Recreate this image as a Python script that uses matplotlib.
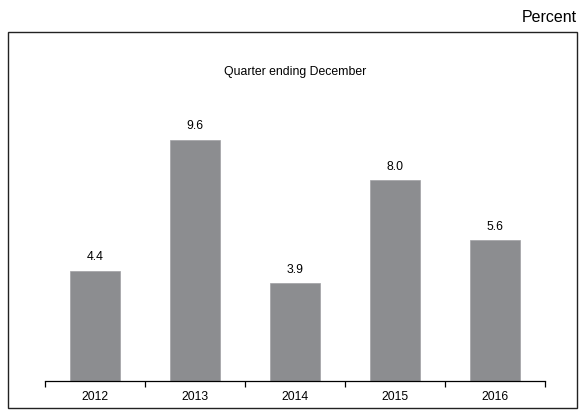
import matplotlib
matplotlib.use("Agg")
import matplotlib.pyplot as plt
from matplotlib.patches import Rectangle

plt.rcParams['font.family'] = ['Liberation Sans', 'DejaVu Sans']

years = ['2012', '2013', '2014', '2015', '2016']
growth = [4.4, 9.6, 3.9, 8.0, 5.6]

W, H = 583, 416
fig = plt.figure(figsize=(W / 100, H / 100), dpi=100)

# outer frame around the chart
fig.patches.append(Rectangle((8 / W, (H - 408) / H), 569 / W, 376 / H,
                             transform=fig.transFigure, fill=False,
                             edgecolor='#222222', linewidth=1.0))
fig.text(577 / W, (H - 18) / H, 'Percent', ha='right', va='center', fontsize=11.5)

ax = fig.add_axes([45 / W, (H - 381) / H, 500 / W, 349 / H])
x = list(range(len(years)))
ax.bar(x, growth, width=0.5, color='#8c8d90', edgecolor='#a0a1a4', linewidth=0.5)
for xi, v in zip(x, growth):
    ax.text(xi, v + 0.3, f'{v:.1f}', ha='center', va='bottom', fontsize=8.8)

ax.set_xlim(-0.5, 4.5)
ax.set_ylim(0, 13.9)
ax.text(0.5, 1 - (72 - 32) / 349, 'Quarter ending December', transform=ax.transAxes,
        ha='center', va='center', fontsize=8.8)

for side in ['top', 'left', 'right']:
    ax.spines[side].set_visible(False)
ax.spines['bottom'].set_linewidth(0.9)
ax.set_yticks([])
ax.set_xticks(x)
ax.set_xticklabels(years, fontsize=8.8)
ax.tick_params(axis='x', which='major', length=0, pad=7)
ax.set_xticks([i - 0.5 for i in range(len(years) + 1)], minor=True)
ax.tick_params(axis='x', which='minor', length=4, width=0.9, direction='out')

fig.savefig('out.png', dpi=100)
